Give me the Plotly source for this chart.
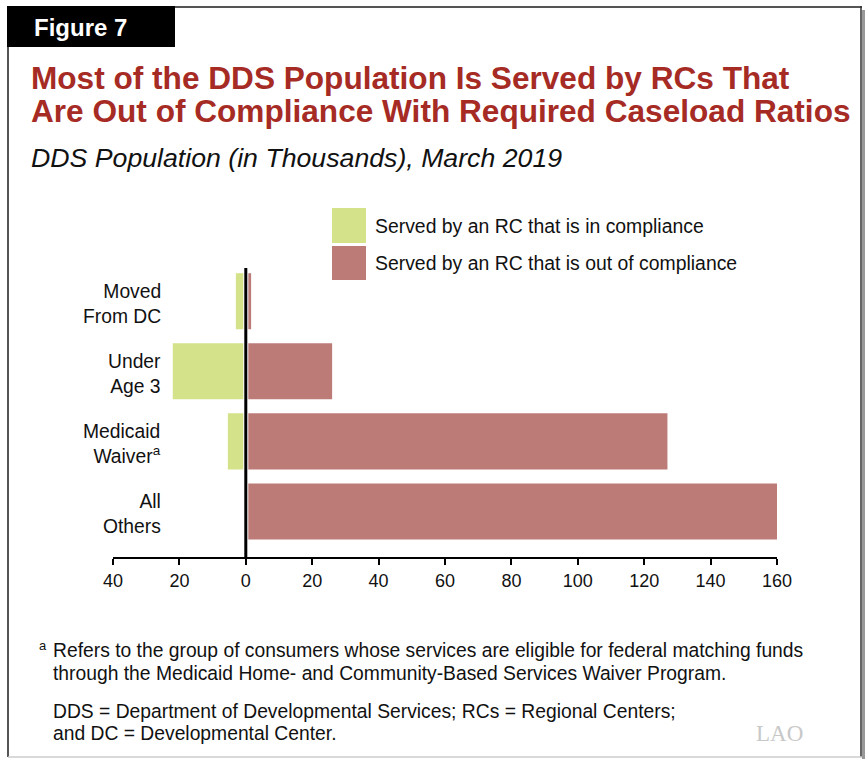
import plotly.graph_objects as go

# ---- data ----
categories = ["Moved<br>From DC", "Under<br>Age 3", "Medicaid<br>Waiver<sup>a</sup>", "All<br>Others"]
in_compliance = [3.0, 22.0, 5.4, 0.0]        # thousands (drawn to the left)
out_of_compliance = [1.6, 26.0, 127.0, 160.0]  # thousands (drawn to the right)
tick_values = [-40, -20, 0, 20, 40, 60, 80, 100, 120, 140, 160]
tick_labels = ["40", "20", "0", "20", "40", "60", "80", "100", "120", "140", "160"]

GREEN = "#D4E28A"
RED = "#BD7B78"
TITLE_RED = "#A62B25"
FONT = "Liberation Sans, Arial, Helvetica, sans-serif"

W, H = 865, 759
L, R, T, B = 113, 777, 269, 557  # plot area in pixels


def px(x):
    return (x - L) / (R - L)


def py(y):
    return (B - y) / (B - T)


ypos = list(range(len(categories)))

fig = go.Figure()
fig.add_trace(go.Bar(
    y=ypos, x=[-v for v in in_compliance], orientation="h",
    marker=dict(color=GREEN, line=dict(width=0)), width=0.8,
    name="Served by an RC that is in compliance", showlegend=False,
    hoverinfo="skip"))
fig.add_trace(go.Bar(
    y=ypos, x=out_of_compliance, orientation="h",
    marker=dict(color=RED, line=dict(width=0)), width=0.8,
    name="Served by an RC that is out of compliance", showlegend=False,
    hoverinfo="skip"))

shapes = []
annotations = []

# zero line with small white gap
shapes.append(dict(type="line", xref="x", yref="paper", x0=0, x1=0, y0=0, y1=py(268),
                   line=dict(color="white", width=5), layer="above"))
shapes.append(dict(type="line", xref="x", yref="paper", x0=0, x1=0, y0=0, y1=py(268),
                   line=dict(color="black", width=3), layer="above"))

# category labels
for i, c in enumerate(categories):
    annotations.append(dict(xref="paper", yref="y", x=px(163), y=i, text=c,
                            xanchor="right", yanchor="middle", align="right",
                            showarrow=False, yshift=-3,
                            font=dict(family=FONT, size=19.3, color="#111")))

# legend swatches
shapes.append(dict(type="rect", xref="paper", yref="paper", x0=px(332), x1=px(366),
                   y0=py(243), y1=py(208), fillcolor=GREEN, line=dict(width=0)))
shapes.append(dict(type="rect", xref="paper", yref="paper", x0=px(332), x1=px(366),
                   y0=py(280), y1=py(246), fillcolor=RED, line=dict(width=0)))
annotations.append(dict(xref="paper", yref="paper", x=px(373), y=py(226),
                        text="Served by an RC that is in compliance", xanchor="left",
                        yanchor="middle", showarrow=False,
                        font=dict(family=FONT, size=19.4, color="#111")))
annotations.append(dict(xref="paper", yref="paper", x=px(373), y=py(263),
                        text="Served by an RC that is out of compliance", xanchor="left",
                        yanchor="middle", showarrow=False,
                        font=dict(family=FONT, size=19.4, color="#111")))

# frame
shapes.append(dict(type="line", xref="paper", yref="paper", x0=px(175), x1=px(862),
                   y0=py(7), y1=py(7), line=dict(color="#555", width=2)))
shapes.append(dict(type="line", xref="paper", yref="paper", x0=px(8), x1=px(8),
                   y0=py(47), y1=py(757), line=dict(color="#555", width=2)))
shapes.append(dict(type="line", xref="paper", yref="paper", x0=px(861), x1=px(861),
                   y0=py(6), y1=py(757), line=dict(color="#333", width=1.5)))
shapes.append(dict(type="rect", xref="paper", yref="paper", x0=px(862), x1=px(866),
                   y0=py(10), y1=py(759), fillcolor="#999", line=dict(width=0)))
shapes.append(dict(type="line", xref="paper", yref="paper", x0=px(8), x1=px(862),
                   y0=py(757), y1=py(757), line=dict(color="#ccc", width=1.5)))
# Figure box
shapes.append(dict(type="rect", xref="paper", yref="paper", x0=px(7), x1=px(175),
                   y0=py(47), y1=py(6), fillcolor="black", line=dict(width=0)))
annotations.append(dict(xref="paper", yref="paper", x=px(32), y=py(27), text="<b>Figure 7</b>",
                        xanchor="left", yanchor="middle", showarrow=False,
                        font=dict(family=FONT, size=24, color="white")))

# titles
annotations.append(dict(xref="paper", yref="paper", x=px(29), y=py(78),
                        text="<b>Most of the DDS Population Is Served by RCs That</b>",
                        xanchor="left", yanchor="middle", showarrow=False,
                        font=dict(family=FONT, size=31.6, color=TITLE_RED)))
annotations.append(dict(xref="paper", yref="paper", x=px(29), y=py(111),
                        text="<b>Are Out of Compliance With Required Caseload Ratios</b>",
                        xanchor="left", yanchor="middle", showarrow=False,
                        font=dict(family=FONT, size=31.6, color=TITLE_RED)))
annotations.append(dict(xref="paper", yref="paper", x=px(29), y=py(158),
                        text="<i>DDS Population (in Thousands), March 2019</i>",
                        xanchor="left", yanchor="middle", showarrow=False,
                        font=dict(family=FONT, size=26.7, color="#111")))

# footnotes
annotations.append(dict(xref="paper", yref="paper", x=px(37), y=py(645), text="a",
                        xanchor="left", yanchor="middle", showarrow=False,
                        font=dict(family=FONT, size=13, color="#111")))
foot_lines = [
    (650, "Refers to the group of consumers whose services are eligible for federal matching funds"),
    (673, "through the Medicaid Home- and Community-Based Services Waiver Program."),
    (711, "DDS = Department of Developmental Services; RCs = Regional Centers;"),
    (733, "and DC = Developmental Center."),
]
for yy, t in foot_lines:
    annotations.append(dict(xref="paper", yref="paper", x=px(51), y=py(yy), text=t,
                            xanchor="left", yanchor="middle", showarrow=False,
                            font=dict(family=FONT, size=19.3, color="#111")))
annotations.append(dict(xref="paper", yref="paper", x=px(754), y=py(733),
                        text="LAO",
                        xanchor="left", yanchor="middle", showarrow=False,
                        font=dict(family="Liberation Serif, Times New Roman, serif", size=23, color="#c8c8c8")))

fig.update_layout(
    width=W, height=H, autosize=False,
    margin=dict(l=L, r=W - R, t=T, b=H - B, pad=0),
    paper_bgcolor="white", plot_bgcolor="white",
    barmode="overlay", showlegend=False,
    xaxis=dict(range=[-40, 160], tickvals=tick_values, ticktext=tick_labels,
               showline=True, linecolor="black", linewidth=2,
               ticks="outside", ticklen=6, tickwidth=2, tickcolor="black",
               showgrid=False, zeroline=False, fixedrange=True,
               tickfont=dict(family=FONT, size=18, color="#111")),
    yaxis=dict(range=[3.65, -0.46], showticklabels=False, showgrid=False,
               zeroline=False, showline=False, ticks="", fixedrange=True),
    shapes=shapes, annotations=annotations,
)

fig.write_html("out.html")
